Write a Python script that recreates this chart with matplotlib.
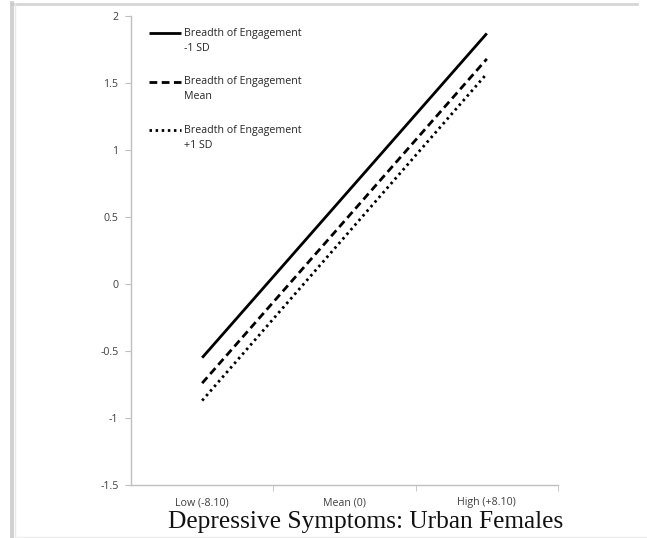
import numpy as np
import matplotlib
matplotlib.use("Agg")
import matplotlib.pyplot as plt
from matplotlib.legend_handler import HandlerLine2D
from matplotlib.lines import Line2D

categories = ["Low (-8.10)", "Mean (0)", "High (+8.10)"]
series_names = ["Breadth of Engagement\n-1 SD",
                "Breadth of Engagement\nMean",
                "Breadth of Engagement\n+1 SD"]
low_values = [-0.55, -0.74, -0.87]
high_values = [1.87, 1.68, 1.57]
yticks = [-1.5, -1, -0.5, 0, 0.5, 1, 1.5, 2]
ytick_labels = ["-1.5", "-1", "-0.5", "0", "0.5", "1", "1.5", "2"]
title = "Depressive Symptoms: Urban Females"

styles = [dict(ls="-", lw=2.0), dict(ls=(0, (2.8, 1.6)), lw=2.0), dict(ls=(0, (0.9, 1.3)), lw=2.0)]

fig = plt.figure(figsize=(6.47, 5.38), dpi=100)
W, H = 647, 538
ax = fig.add_axes([131 / W, 1 - 485 / H, (558 - 131) / W, (485 - 16) / H])

x_idx = [0, 2]
for name, lo, hi, st in zip(series_names, low_values, high_values, styles):
    ax.plot(x_idx, [lo, hi], color="black", label=name, solid_capstyle="butt",
            dash_capstyle="butt", **st)

ax.set_xlim(-0.5, 2.5)
ax.set_ylim(-1.5, 2)
ax.set_yticks(yticks)
ax.set_yticklabels(ytick_labels)
ax.set_xticks(range(len(categories)))
ax.set_xticklabels(categories)
ax.set_xticks([0.5, 1.5, 2.5], minor=True)

axis_col = "#bfbfbf"
for s in ["top", "right"]:
    ax.spines[s].set_visible(False)
for s in ["left", "bottom"]:
    ax.spines[s].set_color(axis_col)
    ax.spines[s].set_linewidth(1.0)

font = "Open Sans"
fs = 7.7
ax.tick_params(axis="y", which="major", length=4, color=axis_col, labelsize=fs,
               labelcolor="#404040", pad=5)
ax.tick_params(axis="x", which="major", length=0, labelsize=fs, labelcolor="#404040", pad=9)
ax.tick_params(axis="x", which="minor", length=4, color=axis_col)
for lab in ax.get_xticklabels() + ax.get_yticklabels():
    lab.set_fontfamily(font)


class TopHandler(HandlerLine2D):
    def create_artists(self, legend, orig_handle, xdescent, ydescent, width, height,
                       fontsize, trans):
        arts = super().create_artists(legend, orig_handle, xdescent, ydescent, width,
                                      height, fontsize, trans)
        for a in arts:
            a.set_ydata(np.asarray(a.get_ydata()) + fontsize * 0.75)
        return arts


handles, labels = ax.get_legend_handles_labels()
leg = ax.legend(handles, labels, loc="upper left", bbox_to_anchor=(0.02, 0.995),
                frameon=False, labelspacing=2.1, handlelength=2.95,
                handletextpad=0.3, prop={"family": font, "size": fs},
                handler_map={Line2D: TopHandler()})
for t in leg.get_texts():
    t.set_linespacing(1.5)
    t.set_color("#262626")

fig.text(366 / W, 1 - 522 / H, title, ha="center", va="center",
         fontfamily="Liberation Serif", fontsize=18.3, color="#111111")

# screenshot frame
fig.add_artist(Line2D([12 / W, 637 / W], [1 - 3.5 / H, 1 - 3.5 / H], color="#d6d6d6", lw=2,
                      transform=fig.transFigure))
fig.add_artist(Line2D([10.5 / W, 10.5 / W], [0, 1 - 2 / H], color="#c8c8c8", lw=1.2,
                      transform=fig.transFigure))
fig.add_artist(Line2D([13 / W, 13 / W], [0, 1 - 2 / H], color="#c8c8c8", lw=1.2,
                      transform=fig.transFigure))
fig.add_artist(Line2D([15.5 / W, 15.5 / W], [0, 1 - 4 / H], color="#e8e8e8", lw=1,
                      transform=fig.transFigure))
fig.add_artist(Line2D([16 / W, 1], [1.5 / H, 1.5 / H], color="#eeeeee", lw=1,
                      transform=fig.transFigure))

fig.savefig("out.png", dpi=100)
